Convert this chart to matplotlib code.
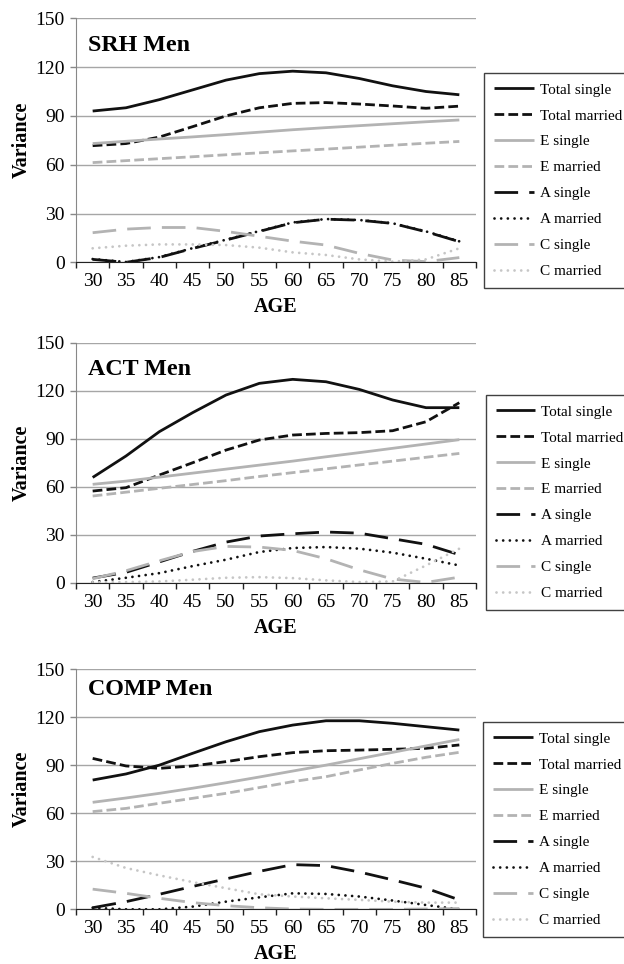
import numpy as np
import matplotlib
matplotlib.use("Agg")
import matplotlib.pyplot as plt

plt.rcParams['font.family'] = ['Liberation Serif', 'DejaVu Serif']
plt.rcParams['lines.scale_dashes'] = False

# Data
ages = [30, 35, 40, 45, 50, 55, 60, 65, 70, 75, 80, 85]
series_names = ['Total single', 'Total married', 'E single', 'E married',
                'A single', 'A married', 'C single', 'C married']

srh_total_single = [93, 95, 100, 106, 112, 116, 117.5, 116.5, 113, 108.5, 105, 103]
srh_total_married = [71.7, 73, 77, 83.4, 90, 95, 97.7, 98.2, 97.3, 96.1, 94.7, 96]
srh_e_single = [73, 74.4, 75.8, 77.1, 78.5, 80, 81.5, 82.8, 84, 85.2, 86.4, 87.5]
srh_e_married = [61.3, 62.5, 63.7, 64.9, 66.1, 67.3, 68.5, 69.6, 70.8, 72, 73.2, 74.3]
srh_a_single = [1.8, 0, 3, 8.5, 13.7, 19, 24.3, 26.5, 25.9, 23.9, 18.8, 12.7]
srh_a_married = [2, 0.2, 3.2, 8.7, 13.9, 19.2, 24.5, 26.6, 26, 24, 19, 12.9]
srh_c_single = [18.2, 20.4, 21.4, 21.4, 19, 16, 13, 10.6, 5.5, 1.4, 0.4, 2.9]
srh_c_married = [8.6, 10.2, 11, 11, 10.6, 9, 6.1, 4.5, 1.8, 0.4, 1.8, 8.6]

act_total_single = [65.8, 79.2, 94.4, 106.3, 117.3, 124.6, 127.1, 125.6, 120.8, 114.2, 109.4, 109.4]
act_total_married = [57.3, 59.4, 67.3, 75, 82.9, 89.2, 92.3, 93.3, 93.8, 95, 100.6, 112.5]
act_e_single = [61.5, 63.5, 66, 68.5, 71, 73.5, 76, 78.7, 81.3, 84, 86.7, 89.4]
act_e_married = [54.2, 56.6, 59, 61.4, 63.8, 66.4, 68.8, 71.2, 73.6, 76, 78.4, 80.8]
act_a_single = [2.9, 6.5, 13, 19.6, 25.4, 29.2, 30.6, 31.7, 31, 27.5, 24, 17.5]
act_a_married = [0.4, 3.1, 6, 10.4, 14.4, 19.2, 21.7, 22.3, 21.3, 18.8, 15, 10.8]
act_c_single = [2.5, 7.5, 13.7, 19.5, 22.7, 22.3, 20.2, 15, 8.1, 2.3, 0.2, 3.5]
act_c_married = [0.4, 0.4, 0.8, 1.9, 3.1, 3.5, 2.9, 1.5, 0.4, 0.8, 10.8, 21.3]

comp_total_single = [80.7, 84.5, 90, 97.4, 104.6, 110.9, 115, 117.7, 117.7, 116.1, 114, 111.9]
comp_total_married = [94.2, 89.5, 88, 89.5, 92.2, 95.3, 97.8, 99, 99.4, 99.9, 100.5, 102.6]
comp_e_single = [66.8, 69.5, 72.4, 75.6, 79, 82.6, 86.3, 90, 94, 98, 102, 106]
comp_e_married = [61, 63, 66.2, 69.3, 72.4, 76, 79.7, 82.8, 87, 91.1, 94.9, 98]
comp_a_single = [1, 4.8, 9.4, 14.3, 19, 23.7, 27.9, 27.3, 23.3, 18.4, 13.2, 5.9]
comp_a_married = [1, 0, 0, 1.7, 4.8, 7.5, 10, 9.6, 8, 5.5, 2.7, 0]
comp_c_single = [12.6, 10, 6.9, 4.2, 2.3, 1, 0.2, 0, 0, 0, 0.2, 0.5]
comp_c_married = [32.7, 25.8, 21.2, 17, 13.2, 9.4, 8, 6.9, 5.9, 4.8, 4.2, 4.2]

panels = [
    ('SRH Men', [srh_total_single, srh_total_married, srh_e_single, srh_e_married,
                 srh_a_single, srh_a_married, srh_c_single, srh_c_married]),
    ('ACT Men', [act_total_single, act_total_married, act_e_single, act_e_married,
                 act_a_single, act_a_married, act_c_single, act_c_married]),
    ('COMP Men', [comp_total_single, comp_total_married, comp_e_single, comp_e_married,
                  comp_a_single, comp_a_married, comp_c_single, comp_c_married]),
]

# line styles per series
black = '#111111'
gray = '#b3b3b3'
lgray = '#c6c6c6'
short_dash = (0, (7, 3))
long_dash = (0, (17, 8))
dots = (0, (0.01, 4.8))
styles = [
    dict(color=black, ls='-'),
    dict(color=black, ls=short_dash),
    dict(color=gray, ls='-'),
    dict(color=gray, ls=short_dash),
    dict(color=black, ls=long_dash),
    dict(color=black, ls=dots, dash_capstyle='round'),
    dict(color=gray, ls=long_dash),
    dict(color=lgray, ls=dots, dash_capstyle='round'),
]

# layout in figure fractions (figure 624x964 px)
ax_rects = [(0.1218, 0.7279, 0.641, 0.2531),
            (0.1218, 0.3955, 0.641, 0.2490),
            (0.1218, 0.0567, 0.641, 0.2493)]
legend_pos = [(0.7756, 0.9243), (0.7784, 0.5902), (0.774, 0.2510)]
title_y = [0.867, 0.865, 0.89]

fig = plt.figure(figsize=(6.24, 9.64), dpi=100)
x = np.arange(len(ages))

for k, (title, data) in enumerate(panels):
    ax = fig.add_axes(ax_rects[k])
    for vals, name, st in zip(data, series_names, styles):
        ax.plot(x, vals, lw=2, label=name, solid_capstyle='butt', **st)

    ax.set_xlim(-0.5, len(ages) - 0.5)
    ax.set_ylim(0, 150)
    ax.set_yticks([0, 30, 60, 90, 120, 150])
    ax.yaxis.grid(True, color='#a6a6a6', lw=1)
    ax.set_axisbelow(True)

    # tick marks between categories, labels at centres
    ax.set_xticks(np.arange(-0.5, len(ages), 1))
    ax.set_xticklabels([])
    ax.set_xticks(x, minor=True)
    ax.set_xticklabels([str(a) for a in ages], minor=True)
    ax.tick_params(axis='x', which='major', direction='out', length=4, width=1, color='#222222')
    ax.tick_params(axis='x', which='minor', length=0, pad=8, labelsize=14)
    ax.tick_params(axis='y', direction='out', length=4, width=1, color='#888888',
                   pad=4, labelsize=14)

    for s in ['top', 'right']:
        ax.spines[s].set_visible(False)
    ax.spines['left'].set_color('#888888')
    ax.spines['bottom'].set_color('#222222')

    ax.set_ylabel('Variance', fontsize=14.5, fontweight='bold')
    ax.yaxis.set_label_coords(-0.11, 0.5)
    ax.set_xlabel('AGE', fontsize=14.5, fontweight='bold', labelpad=5)

    ax.text(0.03, title_y[k], title, transform=ax.transAxes, fontsize=17.3,
            fontweight='bold', va='baseline', ha='left')

    ax.legend(loc='upper left', bbox_to_anchor=legend_pos[k], bbox_transform=fig.transFigure,
              borderaxespad=0, frameon=True, fancybox=False, edgecolor='#111111',
              fontsize=11, handlelength=2.6, handletextpad=0.4, labelspacing=0.8,
              borderpad=0.65)

fig.savefig('out.png', dpi=100)
